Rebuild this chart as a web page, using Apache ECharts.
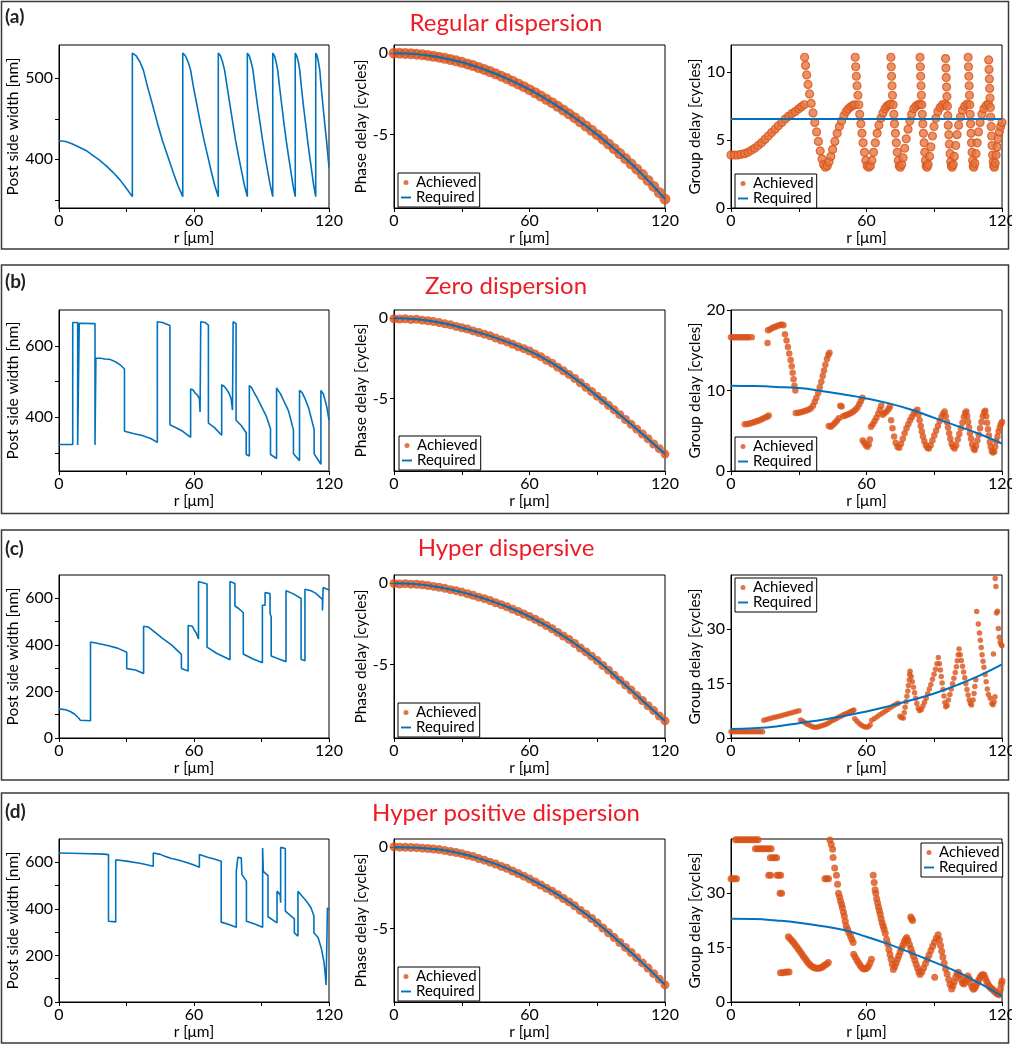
<!DOCTYPE html>
<html>
<head>
<meta charset="utf-8">
<title>Dispersion engineering</title>
<script src="https://cdn.jsdelivr.net/npm/echarts@6/dist/echarts.min.js"></script>
<style>
html, body { margin: 0; padding: 0; background: #fff; }
#chart { width: 1012px; height: 1045px; }
</style>
</head>
<body>
<div id="chart"></div>
<script>
var blue = '#0072BD';
var orange = '#D95319';
var red = '#ED1C24';

// shared axes
var rTicks = [0, 30, 60, 90, 120];
var rLabels = [0, 60, 120];
var rReq = [0, 10, 20, 30, 40, 50, 60, 70, 80, 90, 100, 110, 120];
var rAch = [0, 2.5, 5, 7.5, 10, 12.5, 15, 17.5, 20, 22.5, 25, 27.5, 30, 32.5, 35, 37.5, 40, 42.5, 45, 47.5, 50, 52.5, 55, 57.5, 60,
	62.5, 65, 67.5, 70, 72.5, 75, 77.5, 80, 82.5, 85, 87.5, 90, 92.5, 95, 97.5, 100, 102.5, 105, 107.5, 110, 112.5, 115, 117.5, 120];

// (a) Regular dispersion
var widthA = [[0,423],[3,422],[6,419],[9,415],[12,411],[15,405],[18,399],[21,392],[24,384],[27,375],[30,364],[32.6,354],
	[32.6,531],[34.2,528],[36,520],[37.5,510],[39.3,490],[41.6,467],[43.8,444],[46,423],[48.3,404],[50.5,386],[52.8,368],[55,354],
	[55,531],[56.1,528],[57.4,520],[58.5,510],[59.7,490],[61.3,467],[62.9,444],[64.5,423],[66.1,404],[67.6,386],[69.2,368],[70.8,354],
	[70.8,531],[71.7,528],[72.7,520],[73.6,510],[74.7,490],[76,467],[77.3,444],[78.5,423],[79.8,404],[81.1,386],[82.4,368],[83.7,354],
	[83.7,531],[84.5,528],[85.4,520],[86.2,510],[87.1,490],[88.2,467],[89.4,444],[90.5,423],[91.6,404],[92.7,386],[93.9,368],[95,354],
	[95,531],[95.7,528],[96.5,520],[97.2,510],[98,490],[99,467],[100,444],[101,423],[102,404],[103,386],[104,368],[105,354],
	[105,531],[105.6,528],[106.4,520],[107,510],[107.7,490],[108.6,467],[109.6,444],[110.5,423],[111.4,404],[112.3,386],[113.2,368],[114.1,354],
	[114.1,531],[114.7,528],[115.3,520],[115.9,510],[116.5,490],[117.3,467],[118.1,444],[118.9,423],[119.6,402],[120,390]];
var phaseReqA = [0, -0.06, -0.25, -0.56, -1.0, -1.56, -2.24, -3.04, -3.96, -5.0, -6.16, -7.45, -8.95];
var phaseAchA = [0, 0, -0.015, -0.035, -0.06, -0.095, -0.14, -0.19, -0.25, -0.32, -0.39, -0.47, -0.56, -0.66, -0.76, -0.88, -1.0,
	-1.13, -1.27, -1.41, -1.56, -1.72, -1.89, -2.06, -2.24, -2.43, -2.63, -2.83, -3.04, -3.26, -3.49, -3.72, -3.96, -4.21, -4.47,
	-4.73, -5.0, -5.28, -5.57, -5.86, -6.16, -6.47, -6.79, -7.12, -7.45, -7.81, -8.18, -8.56, -8.95];
var gdReqA = [6.55, 6.55, 6.55, 6.55, 6.55, 6.55, 6.55, 6.55, 6.55, 6.55, 6.55, 6.55, 6.55];
var gdAchA = [[0,3.9],[1.5,3.9],[3,3.9],[4.5,3.95],[6,4],[7.5,4.1],[9,4.25],[10.5,4.4],[12,4.6],[13.5,4.8],[15,5.05],[16.5,5.3],
	[18,5.55],[19.5,5.8],[21,6.05],[22.5,6.3],[24,6.55],[25.5,6.75],[27,6.95],[28.5,7.1],[30,7.3],[31.2,7.45],[32.4,7.6],
	[32.6,11.1],[33,10.5],[33.5,9.8],[34.1,9.1],[34.8,8.4],[35.5,7.7],[36.3,7],[37.1,6.3],[37.9,5.6],[38.7,4.9],[39.5,4.2],[40.3,3.6],[41,3.2],[41.8,3],
	[42.6,3.1],[43.4,3.4],[44.2,3.8],[45,4.3],[46,4.9],[47,5.5],[48,6],[49,6.4],[50,6.8],[51,7.1],[52,7.3],[53,7.45],[54,7.55],[54.9,7.6],
	[55,11.1],[55.2,10.4],[55.5,9.7],[55.8,9],[56.2,8.3],[56.6,7.6],[57,6.9],[57.5,6.2],[58,5.5],[58.5,4.8],[59.1,4.1],[59.7,3.5],[60.3,3.1],[61,3],
	[61.7,3.1],[62.4,3.5],[63.1,4.1],[63.9,4.8],[64.7,5.5],[65.5,6.1],[66.4,6.6],[67.3,7],[68.2,7.3],[69.1,7.5],[70,7.6],[70.7,7.65],
	[70.8,11.1],[70.95,10.4],[71.1,9.7],[71.3,9],[71.5,8.3],[71.8,7.6],[72.1,6.9],[72.4,6.2],[72.8,5.5],[73.2,4.8],[73.6,4.1],[74.1,3.5],[74.5,3.1],[75,3],
	[75.6,3.2],[76.2,3.7],[76.9,4.4],[77.6,5.1],[78.4,5.8],[79.2,6.4],[80,6.9],[80.9,7.3],[81.9,7.5],[82.9,7.6],[83.6,7.65],
	[83.7,11.1],[83.85,10.4],[84,9.7],[84.15,9],[84.3,8.3],[84.5,7.6],[84.7,6.9],[84.95,6.2],[85.2,5.5],[85.5,4.8],[85.8,4.1],[86.1,3.5],[86.4,3.1],[86.8,3],
	[87.3,3.2],[87.9,3.8],[88.5,4.5],[89.2,5.3],[89.9,6],[90.7,6.6],[91.6,7.1],[92.6,7.4],[93.6,7.6],[94.8,7.65],
	[95,11],[95.15,10.3],[95.3,9.6],[95.45,8.9],[95.6,8.2],[95.8,7.5],[96,6.8],[96.2,6.1],[96.45,5.4],[96.7,4.7],[97,4],[97.3,3.4],[97.6,3.1],[97.9,3],
	[98.4,3.2],[98.9,3.8],[99.5,4.6],[100.1,5.4],[100.8,6.1],[101.6,6.7],[102.5,7.2],[103.5,7.5],[104.6,7.65],
	[105,11.1],[105.15,10.4],[105.3,9.7],[105.45,9],[105.6,8.3],[105.75,7.6],[105.9,6.9],[106.1,6.2],[106.3,5.5],[106.5,4.8],[106.75,4.1],[107,3.5],[107.25,3.1],[107.5,3],
	[108,3.3],[108.5,4],[109,4.8],[109.6,5.6],[110.3,6.3],[111.1,6.9],[112,7.3],[113,7.55],[114,7.65],
	[114.1,10.9],[114.25,10.2],[114.4,9.5],[114.55,8.8],[114.7,8.1],[114.85,7.4],[115,6.7],[115.2,6],[115.4,5.3],[115.6,4.6],[115.85,3.9],[116.1,3.4],[116.35,3.1],[116.6,3],
	[117,3.3],[117.4,3.9],[117.8,4.5],[118.3,5.1],[118.8,5.6],[119.4,6],[120,6.3]];

// (b) Zero dispersion
var widthB = [[0,324],[6.1,324],[6.1,665],[8.3,665],[8.3,323],[9,323],[9,663],[16,662],[16,323],[16.4,323],[16.4,565],[18.5,565],
	[20.5,563],[22.7,562],[24.5,557],[26.2,551],[27.5,545],[29.1,535],[29.1,361],[33,355],[37,349],[41,340],[43.7,330],
	[43.7,667],[46,665],[49.3,657],[49.3,379],[52,371],[55,361],[58.5,344],[58.5,479],[59.5,477],[60.5,468],[61.5,462],[62.4,452],
	[62.7,415],[63,415],[63,667],[65,665],[66.4,658],[66.4,384],[69,372],[72.3,350],[72.3,491],[73.5,486],[74.5,478],[75.5,468],
	[76.5,452],[77.1,420],[77.4,420],[77.4,667],[78.7,662],[78.7,392],[81,377],[83.2,357],[83.2,296],[84.6,292],[84.6,489],
	[85.5,484],[86.5,472],[88,455],[90,430],[92,405],[94,368],[94,296],[96.7,285],[96.7,482],[97.5,478],[98.5,465],[100,445],
	[102,418],[104.2,365],[104.2,298],[106.9,279],[106.9,475],[108,470],[109.5,450],[111,425],[113.4,366],[113.4,298],[116.4,269],
	[116.4,475],[117.5,465],[119,430],[120,392]];
var phaseReqB = [0, -0.08, -0.28, -0.6, -1.0, -1.48, -2.05, -2.8, -3.75, -4.85, -6.0, -7.2, -8.45];
var phaseAchB = [-0.04, -0.06, -0.05, -0.09, -0.08, -0.13, -0.17, -0.22, -0.28, -0.36, -0.42, -0.52, -0.6, -0.68, -0.8, -0.9, -1.0,
	-1.1, -1.24, -1.36, -1.48, -1.62, -1.78, -1.9, -2.05, -2.24, -2.4, -2.62, -2.8, -3.05, -3.28, -3.5, -3.75, -4.02, -4.3,
	-4.56, -4.85, -5.12, -5.42, -5.7, -6.0, -6.3, -6.6, -6.9, -7.2, -7.5, -7.82, -8.12, -8.45];
var gdReqB = [10.6, 10.55, 10.45, 10.3, 9.95, 9.5, 9.0, 8.4, 7.6, 6.6, 5.6, 4.6, 3.4];
var gdAchB = [[0,16.6],[1,16.6],[2,16.6],[3,16.6],[4,16.6],[5,16.6],[6,16.6],[7,16.6],[7.7,16.6],[9.2,16.6],
	[6.1,5.8],[7.2,5.85],[8.3,5.9],[9.4,6],[10.5,6.1],[11.6,6.2],[12.7,6.3],[13.8,6.45],[14.9,6.6],[16,6.75],[16.7,6.9],
	[16.2,15.9],[16.4,17.5],[17.4,17.6],[18.4,17.8],[19.4,17.9],[20.4,18],[21.4,18.1],[22.4,18.2],[23.2,18.1],
	[23.9,17],[24.6,16.2],[25.2,15.4],[25.8,14.6],[26.4,13.8],[26.9,13],[27.3,12.2],[27.7,11.4],[28.1,10.6],[28.5,10],
	[28.7,7.2],[29.8,7.25],[30.9,7.3],[32,7.4],[33.1,7.5],[34.2,7.6],[35.3,7.75],[36.3,8.1],[37.1,8.6],[37.8,9.1],[38.6,9.7],
	[39.3,10.4],[40,11.1],[40.6,11.8],[41.2,12.5],[41.8,13.2],[42.5,13.9],[43.1,14.4],[43.6,14.7],
	[43.3,5.6],[44.2,5.5],[45.1,5.7],[46,5.95],[46.9,6.25],[47.8,6.55],[48.4,8.1],[49,8],[49.7,6.8],[50.6,6.9],[51.5,7],[52.4,7.1],
	[53.3,7.25],[54.2,7.4],[55.1,7.6],[56,7.9],[56.8,8.3],[57.5,8.7],[58.2,9.1],
	[58.3,3.8],[59,3.5],[59.7,3.2],[60.4,3],[61,3.3],[61.5,3.9],
	[62,5.5],[62.8,5.8],[63.6,6.2],[64.4,6.6],[65.2,7.1],[65.9,7.6],[66.5,8.1],
	[67.2,7],[68,7.2],[68.9,7.4],[69.8,7.7],[70.4,8],
	[70.9,6.3],[71.5,5.3],[72.2,4.3],[72.9,3.5],[73.7,3],[74.5,2.9],
	[75.3,3.4],[76.1,4],[76.9,4.7],[77.7,5.3],[78.5,5.8],[79.3,6.3],[80.1,6.7],[80.9,7.1],[81.7,7.4],[82.5,7.6],
	[83,7],[83.5,6.3],[84,5.6],[84.5,4.9],[85,4.3],[85.6,3.7],[86.3,3.2],[87,2.9],[87.6,2.8],
	[88.4,3.2],[89.2,3.8],[90,4.4],[90.8,5],[91.6,5.6],[92.4,6.2],[93.2,6.7],[93.9,7.1],[94.6,7.4],
	[95.1,6.8],[95.6,6.1],[96.1,5.4],[96.6,4.7],[97.1,4],[97.7,3.4],[98.3,3],[99,2.8],
	[99.7,3.2],[100.4,3.9],[101.1,4.6],[101.8,5.3],[102.5,6],[103.1,6.7],[103.7,7.2],[104.2,7.4],
	[104.6,6.8],[105,6.1],[105.4,5.4],[105.8,4.7],[106.3,4],[106.8,3.3],[107.4,2.8],[107.9,2.6],
	[108.5,3.1],[109.1,3.8],[109.7,4.5],[110.3,5.3],[110.9,6.1],[111.5,6.8],[112.1,7.3],[112.6,7.5],
	[113,6.8],[113.4,6],[113.8,5.2],[114.2,4.4],[114.6,3.6],[115,3],[115.5,2.5],[116,2.3],[116.5,2.4],
	[117,3],[117.5,3.7],[118,4.3],[118.5,4.9],[119,5.4],[119.5,5.8],[120,6.1]];

// (c) Hyper dispersive
var widthC = [[0,125],[3,121],[5,114],[7,102],[8.5,88],[9.5,76],[10,74],[14,74],[14,412],[18,405],[22,396],[26,386],[30.1,368],
	[30.1,298],[34,292],[37.6,277],[37.6,480],[39.6,477],[43,451],[46,428],[50,400],[54.4,359],[54.4,298],[57.4,288],[57.4,483],
	[59.3,480],[60,465],[61,451],[62,425],[62,672],[65.8,661],[65.8,390],[70,364],[76,336],[76,672],[78.2,664],[78.2,567],[80,555],
	[81.9,538],[81.9,361],[86,340],[90.4,323],[90.4,570],[91.6,570],[91.6,625],[93.8,620],[93.8,535],[94.3,520],[94.3,352],[98,338],
	[100.9,328],[100.9,632],[104,620],[107.6,599],[107.6,338],[109.3,332],[109.3,639],[112,632],[114,622],[117.1,595],[117.1,548],
	[117.4,548],[117.4,646],[120,636]];
var phaseReqC = [0, -0.06, -0.25, -0.55, -0.95, -1.45, -2.05, -2.8, -3.7, -4.75, -5.95, -7.2, -8.45];
var phaseAchC = [-0.02, -0.05, -0.03, -0.06, -0.07, -0.1, -0.15, -0.2, -0.25, -0.32, -0.4, -0.46, -0.55, -0.65, -0.74, -0.86, -0.95,
	-1.07, -1.2, -1.32, -1.45, -1.6, -1.74, -1.9, -2.05, -2.22, -2.4, -2.6, -2.8, -3.02, -3.24, -3.45, -3.7, -3.98, -4.22,
	-4.48, -4.75, -5.05, -5.34, -5.65, -5.95, -6.25, -6.56, -6.9, -7.2, -7.52, -7.82, -8.15, -8.45];
var gdReqC = [2.5, 2.7, 3.2, 4.1, 5.0, 6.1, 7.3, 8.8, 10.5, 12.3, 14.6, 17.2, 20.3];
var gdAchC = [[0,1.7],[1,1.7],[2,1.7],[3,1.7],[4,1.7],[5,1.7],[6,1.7],[7,1.7],[8,1.7],[9,1.7],[10,1.7],[11,1.7],[12,1.7],[13,1.7],[14,1.7],
	[14.5,4.9],[15.7,5.1],[16.9,5.3],[18.1,5.5],[19.3,5.7],[20.5,5.9],[21.7,6.1],[22.9,6.3],[24.1,6.5],[25.3,6.7],[26.5,6.9],[27.7,7.1],[28.9,7.3],[30.1,7.5],
	[30.8,5],[31.8,4.6],[32.8,4.2],[33.8,3.8],[34.8,3.5],[35.8,3.2],[36.8,3],[37.8,3],[38.8,3.1],[39.8,3.3],[40.8,3.5],[41.8,3.7],
	[42.8,4],[43.8,4.4],[44.8,4.8],[45.8,5.1],[46.8,5.4],[47.8,5.8],[48.8,6.1],[49.8,6.4],[50.8,6.7],[51.8,7],[52.8,7.3],[53.8,7.5],[54.4,7.7],
	[54.8,5.3],[55.8,4.6],[56.8,4],[57.8,3.5],[58.8,3.2],[59.8,3],[60.8,3.1],[61.6,3.6],
	[62.3,4.9],[63.5,5.4],[64.7,5.9],[65.9,6.4],[67.1,6.9],[68.3,7.4],[69.5,7.9],[70.7,8.4],[71.9,8.9],[73.1,9.3],[74.1,9.6],
	[74.8,6],[75.5,5.6],[76.3,5.5],[76.7,7],[77.1,8.5],[77.5,10],[77.9,11.5],[78.3,13],[78.6,14.5],[78.9,16],[79.1,17.5],[79.3,18.4],
	[79.8,17],[80.3,15.5],[80.8,14],[81.3,12.5],[81.8,11],[82.3,9.5],[82.9,8.2],[83.5,7.5],
	[84.3,7.9],[85,8.8],[85.7,9.9],[86.4,11],[87.1,12.2],[87.8,13.5],[88.5,14.8],[89.2,16.2],[89.9,17.6],[90.6,19],[91.2,20.5],[91.8,22.2],
	[92.3,20.5],[92.7,18.8],[93.1,17],[93.5,15.2],[93.9,13.4],[94.3,11.6],[94.7,9.8],[95.1,8.6],
	[95.7,9],[96.3,10.5],[96.9,12],[97.5,13.5],[98.1,15],[98.7,16.5],[99.3,18.1],[99.8,19.7],[100.2,21.3],[100.6,23],[101,24.6],
	[101.5,23],[102,21.4],[102.5,19.8],[103,18.2],[103.5,16.6],[104,15],[104.5,13.4],[105,11.9],[105.5,10.5],[106,9.5],[106.5,9.1],
	[107.2,10.5],[107.6,12.3],[108,14.2],[108.4,16.1],
	[108.8,34.9],[109.5,31.5],[110,29],[110.4,27],[110.8,25],[111.2,23],[111.6,21.2],[112,19.5],[112.5,17.5],[113,15.5],[113.5,13.5],[114,12],
	[114.8,11],[115.5,9.5],[116,9.2],[116.5,10],[116.9,11.4],[116.2,23.2],[117,44],[117.3,41.8],[117.6,34.5],[118,35],[118.4,30.2],
	[118.8,27.8],[119.2,26.5],[119.6,25.8],[120,25.5]];

// (d) Hyper positive dispersion
var widthD = [[0,640],[10,638],[20,635],[22,633],[22,347],[25.2,344],[25.2,611],[30,605],[36,596],[41.9,583],[41.9,640],[45,634],
	[47,626],[50,616],[53,610],[56,601],[60,588],[62.4,579],[62.4,633],[66,622],[69,614],[72.1,604],[72.1,343],[75.5,333],[78.8,321],
	[78.8,561],[79.5,561],[79.5,621],[81,619],[81.3,547],[83.3,519],[83.3,347],[87,335],[90.5,321],[90.5,661],[90.8,561],[92.9,543],
	[92.9,366],[96.9,340],[96.9,476],[98.3,461],[98.5,426],[98.5,664],[100.6,659],[100.6,390],[104.6,357],[104.6,297],[106.2,283],
	[106.2,476],[108,455],[110,433],[112,405],[113.3,369],[113.3,297],[115.2,276],[116.7,226],[117.8,169],[118.4,111],[118.7,73],
	[119.3,73],[119.3,404],[120,397]];
var phaseReqD = [0, -0.03, -0.15, -0.4, -0.8, -1.3, -1.95, -2.7, -3.6, -4.65, -5.85, -7.1, -8.45];
var phaseAchD = [0.02, 0, -0.01, -0.02, -0.03, -0.06, -0.08, -0.12, -0.15, -0.21, -0.27, -0.33, -0.4, -0.5, -0.58, -0.7, -0.8,
	-0.92, -1.04, -1.18, -1.3, -1.46, -1.62, -1.78, -1.95, -2.14, -2.32, -2.52, -2.7, -2.92, -3.15, -3.36, -3.6, -3.88, -4.12,
	-4.38, -4.65, -4.96, -5.25, -5.55, -5.85, -6.15, -6.46, -6.78, -7.1, -7.42, -7.76, -8.1, -8.45];
var gdReqD = [23.0, 22.9, 22.5, 21.9, 21.0, 19.9, 18.0, 15.9, 13.5, 11.0, 8.4, 5.2, 1.6];
var gdAchD = [[0,34],[0.8,34],[1.6,34],[2.4,34],
	[2,44.8],[3,44.8],[4,44.8],[5,44.8],[6,44.8],[7,44.8],[8,44.8],[9,44.8],[10,44.8],[11,44.8],[12,44.8],
	[10.8,42.3],[11.8,42.3],[12.8,42.3],[13.8,42.3],[14.8,42.3],[15.8,42.3],[16.8,42.3],[17.8,42.3],
	[17.4,39.8],[18.4,39.8],[19.4,39.8],[20.2,39.8],[16.7,35],[17.5,35],[20.3,35],[21.2,35],[22,35],[21.7,30],[22.4,30],
	[21.9,8.1],[22.9,8.1],[23.9,8.2],[24.9,8.3],[25.7,8.3],
	[25.4,18],[26.1,17.5],[26.9,17],[27.6,16.5],[28.3,15.9],[29,15.3],[29.8,14.6],[30.5,14],[31.3,13.3],[32,12.6],[32.8,12],[33.5,11.4],
	[34.2,10.8],[35,10.3],[35.7,9.9],[36.5,9.6],[37.2,9.4],[38,9.3],[38.7,9.3],[39.5,9.4],[40.2,9.6],[40.9,9.9],[41.6,10.2],[42.4,10.5],[43.1,10.9],
	[41.6,34],[42.4,34],[43.2,34],
	[43.8,44.7],[44.4,43.5],[45,42.2],[45.2,39.9],[45.9,37],[46.7,35],[47.2,32.5],[47.6,30],[48.1,29],[48.5,27.9],[49,26.9],[49.3,26],
	[49.8,24.8],[50.2,23.7],[50.6,22.3],[51,21],[51.6,20.1],[52.2,19.1],[52.9,18.2],[53.5,17.3],[54.1,16.4],
	[54.3,13.2],[55,12.4],[55.7,11.6],[56.4,10.9],[57.1,10.2],[57.8,9.6],[58.6,9.2],[59.3,9.1],[60.1,9.3],[60.8,9.8],[61.5,10.7],[62.2,11.8],
	[63,35],[63.4,33],[63.8,31],[64.1,30],[64.5,28.5],[64.9,27.3],[65.3,26.2],[65.7,25.2],[66.1,24.2],[66.5,23],[66.9,21.9],[67.4,21],
	[67.8,20.1],[68.3,19],[68.9,17.3],[69.4,16],[69.9,14.5],[70.4,13.1],[70.9,11.8],[71.4,10.4],[71.9,9],
	[72.5,9.8],[73.1,10.8],[73.7,11.8],[74.3,12.8],[74.9,13.8],[75.5,14.8],[76.1,15.7],[76.7,16.6],[77.3,17.3],[77.8,17.8],
	[79.6,23.5],[80,23],[80.4,22.5],
	[78.4,17],[79,15.9],[79.6,14.8],[80.2,13.7],[80.8,12.6],[81.4,11.5],[82,10.4],[82.6,9.3],[83.2,8.3],[83.7,7.6],
	[84.5,8.3],[85.3,9.4],[86.1,10.6],[86.9,11.8],[87.7,13],[88.5,14.2],[89.3,15.4],[90.1,16.5],[90.9,17.6],[91.7,18.6],[90.2,6.8],
	[92.3,17.2],[92.8,15.6],[93.3,14],[93.8,12.4],[94.4,10.8],[95,9.2],[95.7,7.7],[96.4,6.2],[97,4.8],[97.7,3.6],
	[98.3,4.5],[98.9,5.6],[99.5,6.8],[100.1,7.8],[100.7,8.2],[101.3,7.4],[101.9,6.3],[102.5,5.3],[103.1,5],[103.7,5.6],[104.3,6.5],
	[104.9,7.2],[105.5,6.4],[106.1,5.2],[106.7,4.2],[107.3,3.5],[107.9,3.8],[108.5,4.5],[109.1,5.3],[109.7,6.1],[110.3,6.8],[110.9,7.3],
	[111.5,7.6],[112.1,7.4],[112.7,6.5],[113.3,5.6],[113.9,4.8],[114.5,4.2],[115.1,3.8],[115.7,3.6],[116.3,3.2],[116.9,2.8],[117.5,2.5],
	[118.1,2.2],[118.7,2],[119.3,3.5],[119.7,5],[120,5.8]];

function zip(xs, ys) {
	var out = [];
	for (var i = 0; i < xs.length; i++) out.push([xs[i], ys[i]]);
	return out;
}

// panel columns (left / middle / right) in px
var cols = [
	{ left: 59, width: 270, name: 'Post side width [nm]', nameGap: 37 },
	{ left: 394, width: 271, name: 'Phase delay [cycles]', nameGap: 20 },
	{ left: 731, width: 271, name: 'Group delay [cycles]', nameGap: 24 }
];

var rows = [
	{ tag: '(a)', title: 'Regular dispersion', box: [1.5, 249], tagY: 17, titleY: 23, top: 45, height: 163,
		width: widthA, wRange: [340, 541], wTicks: [350, 400, 450, 500], wLabels: [400, 500],
		phAch: phaseAchA, phReq: phaseReqA, phSize: 11, phLegend: [398, 173],
		gdAch: gdAchA, gdReq: gdReqA, gdRange: [0, 12], gdTicks: [0, 5, 10], gdSize: 8, gdLegend: [735, 174], hollow: true },
	{ tag: '(b)', title: 'Zero dispersion', box: [265, 513.5], tagY: 282, titleY: 286, top: 310, height: 161,
		width: widthB, wRange: [250, 700], wTicks: [300, 400, 500, 600], wLabels: [400, 600],
		phAch: phaseAchB, phReq: phaseReqB, phSize: 9, phLegend: [399, 436],
		gdAch: gdAchB, gdReq: gdReqB, gdRange: [0, 20], gdTicks: [0, 10, 20], gdSize: 6.5, gdLegend: [735, 437] },
	{ tag: '(c)', title: 'Hyper dispersive', box: [530, 780], tagY: 549, titleY: 548, top: 575, height: 163,
		width: widthC, wRange: [0, 700], wTicks: [0, 100, 200, 300, 400, 500, 600], wLabels: [0, 200, 400, 600],
		phAch: phaseAchC, phReq: phaseReqC, phSize: 9, phLegend: [398, 703],
		gdAch: gdAchC, gdReq: gdReqC, gdRange: [0, 45], gdTicks: [0, 15, 30], gdSize: 5.5, gdLegend: [735, 578] },
	{ tag: '(d)', title: 'Hyper positive dispersion', box: [793, 1043], tagY: 812, titleY: 813, top: 839, height: 163,
		width: widthD, wRange: [0, 700], wTicks: [0, 100, 200, 300, 400, 500, 600], wLabels: [0, 200, 400, 600],
		phAch: phaseAchD, phReq: phaseReqD, phSize: 9, phLegend: [398, 967],
		gdAch: gdAchD, gdReq: gdReqD, gdRange: [0, 45], gdTicks: [0, 15, 30], gdSize: 7, gdLegend: [921, 843] }
];

var font = 'Lato';
var nameFont = { fontSize: 15.5, color: '#000', fontFamily: font };

function xAxisFor(gi) {
	return {
		gridIndex: gi, type: 'value', min: 0, max: 120,
		name: 'r [\u03bcm]', nameLocation: 'middle', nameGap: 20,
		nameTextStyle: nameFont,
		axisLine: { onZero: false, lineStyle: { color: '#000', width: 1 } },
		axisTick: { customValues: rTicks, length: 4, lineStyle: { color: '#000' } },
		axisLabel: { customValues: rLabels, margin: 5, fontSize: 16, color: '#000', fontFamily: font },
		splitLine: { show: false }
	};
}

function yAxisFor(gi, col, range, ticks) {
	return {
		gridIndex: gi, type: 'value', min: range[0], max: range[1],
		name: col.name, nameLocation: 'middle', nameRotate: 90, nameGap: col.nameGap,
		nameTextStyle: nameFont,
		axisLine: { onZero: false, lineStyle: { color: '#000', width: 1 } },
		axisTick: { customValues: ticks[0], length: 4, lineStyle: { color: '#000' } },
		axisLabel: { customValues: ticks[1], margin: 6, fontSize: 16, color: '#000', fontFamily: font },
		splitLine: { show: false }
	};
}

function legendAt(pos) {
	return {
		left: pos[0], top: pos[1], orient: 'vertical', itemGap: 0, itemWidth: 10, itemHeight: 5,
		padding: [2, 3, 2, 3], borderColor: '#000', borderWidth: 1, borderRadius: 0, backgroundColor: '#fff',
		selectedMode: false,
		textStyle: { fontSize: 15, color: '#000', fontFamily: font, lineHeight: 14 },
		data: [{ name: 'Achieved', icon: 'circle' }, { name: 'Required', icon: 'path://M0,0H16V3H0Z' }]
	};
}

var option = {
	animation: false,
	backgroundColor: '#fff',
	textStyle: { fontFamily: font },
	grid: [], xAxis: [], yAxis: [], legend: [], series: [], graphic: []
};

rows.forEach(function(row, i) {
	// 外框与标题
	option.graphic.push({ type: 'rect', silent: true,
		shape: { x: 1.5, y: row.box[0], width: 1007, height: row.box[1] - row.box[0] },
		style: { fill: 'none', stroke: '#3a3a3a', lineWidth: 1.5 } });
	option.graphic.push({ type: 'text', silent: true, x: 5, y: row.tagY,
		style: { text: row.tag, fill: '#222', fontSize: 19, fontWeight: 'bold', fontFamily: font, verticalAlign: 'middle' } });
	option.graphic.push({ type: 'text', silent: true, x: 506, y: row.titleY,
		style: { text: row.title, fill: red, fontSize: 24, fontFamily: font, align: 'center', verticalAlign: 'middle' } });

	for (var c = 0; c < 3; c++) {
		option.grid.push({ left: cols[c].left, top: row.top, width: cols[c].width, height: row.height,
			show: true, borderColor: '#000', borderWidth: 1, backgroundColor: 'transparent', outerBoundsMode: 'none' });
		option.xAxis.push(xAxisFor(i * 3 + c));
	}
	option.yAxis.push(yAxisFor(i * 3, cols[0], row.wRange, [row.wTicks, row.wLabels]));
	option.yAxis.push(yAxisFor(i * 3 + 1, cols[1], [-9.5, 0.5], [[-5, 0], [-5, 0]]));
	option.yAxis.push(yAxisFor(i * 3 + 2, cols[2], row.gdRange, [row.gdTicks, row.gdTicks]));

	option.legend.push(legendAt(row.phLegend));
	option.legend.push(legendAt(row.gdLegend));

	// 柱宽
	option.series.push({ name: 'Width', type: 'line', xAxisIndex: i * 3, yAxisIndex: i * 3, data: row.width,
		symbol: 'none', silent: true, lineStyle: { color: blue, width: 1.6 }, itemStyle: { color: blue } });
	// 相位延迟
	option.series.push({ name: 'Achieved', type: 'scatter', xAxisIndex: i * 3 + 1, yAxisIndex: i * 3 + 1,
		data: zip(rAch, row.phAch), symbolSize: row.phSize, silent: true, itemStyle: { color: orange } });
	option.series.push({ name: 'Required', type: 'line', xAxisIndex: i * 3 + 1, yAxisIndex: i * 3 + 1,
		data: zip(rReq, row.phReq), smooth: true, symbol: 'none', silent: true,
		lineStyle: { color: blue, width: 2 }, itemStyle: { color: blue } });
	// 群延迟
	option.series.push({ name: 'Achieved', type: 'scatter', xAxisIndex: i * 3 + 2, yAxisIndex: i * 3 + 2,
		data: row.gdAch, symbolSize: row.gdSize, silent: true,
		itemStyle: row.hollow ? { color: '#E5763F', borderColor: orange, borderWidth: 1.2 } : { color: orange } });
	option.series.push({ name: 'Required', type: 'line', xAxisIndex: i * 3 + 2, yAxisIndex: i * 3 + 2,
		data: zip(rReq, row.gdReq), smooth: true, symbol: 'none', silent: true,
		lineStyle: { color: blue, width: 2 }, itemStyle: { color: blue } });
});

var myChart = echarts.init(document.getElementById('chart'), null, { renderer: 'canvas' });
myChart.setOption(option);
window.onresize = myChart.resize;
</script>
</body>
</html>
